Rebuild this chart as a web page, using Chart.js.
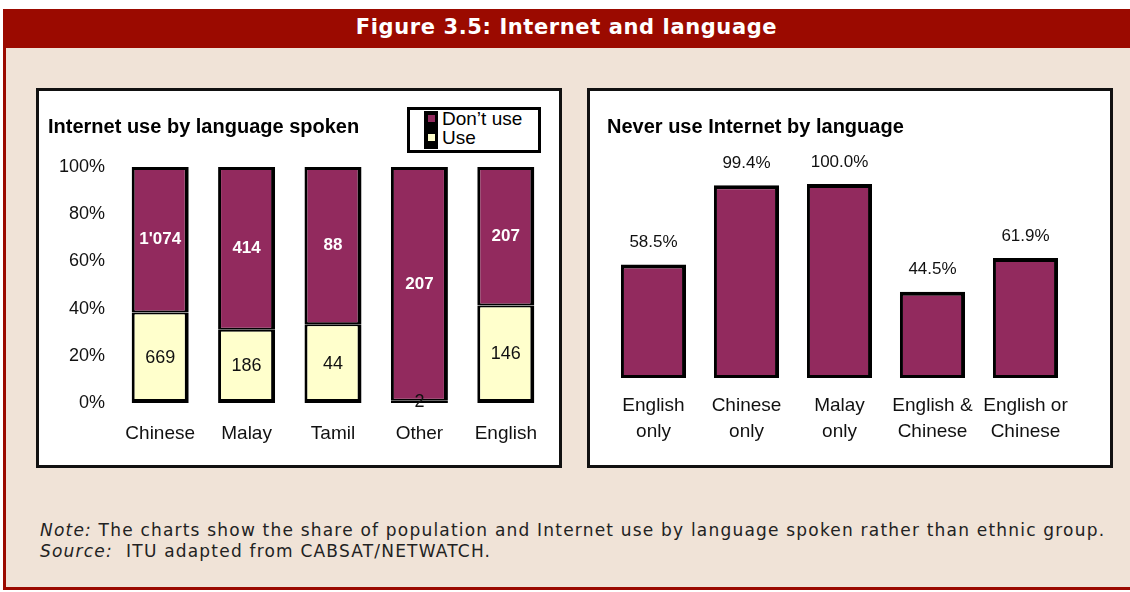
<!DOCTYPE html>
<html>
<head>
<meta charset="utf-8">
<script src="https://cdn.jsdelivr.net/npm/chart.js@4.4.0/dist/chart.umd.min.js"></script>
<style>
  html, body { margin: 0; padding: 0; background: #fff; }
  body { width: 1130px; height: 592px; position: relative; overflow: hidden; font-family: "Liberation Sans", Arial, sans-serif; }
  #frame { position: absolute; left: 3px; top: 9px; width: 1127px; height: 581px; background: #F0E3D7;
           border-left: 3px solid #9B0A00; border-bottom: 3px solid #9B0A00; box-sizing: border-box; }
  #header { position: absolute; left: 3px; top: 9px; width: 1127px; height: 39px; background: #9B0A00; color: #fff;
            font: bold 21px "DejaVu Sans", sans-serif; letter-spacing: 0.6px; text-align: center; line-height: 36px; }
  .panel { position: absolute; top: 88px; width: 526px; height: 380px; background: #fff; border: 3px solid #111; box-sizing: border-box; }
  #panelL { left: 36px; }
  #panelR { left: 587px; }
  .wrap { position: absolute; left: 0; top: 0; width: 520px; height: 374px; }
  #legend { position: absolute; left: 368px; top: 16px; width: 134px; height: 46px; border: 3px solid #000; box-sizing: border-box; background: #fff; }
  #legend .keys { position: absolute; left: 14px; top: 1px; width: 14px; height: 38px; background: #000; }
  #legend .key { position: absolute; left: 4px; width: 7px; height: 7px; }
  #legend .txt { position: absolute; left: 32px; font: 19px "Liberation Sans", Arial, sans-serif; line-height: 19px; color: #000; white-space: nowrap; }
  #note { position: absolute; left: 40px; top: 520px; font: 17px "DejaVu Sans", sans-serif; letter-spacing: 1.2px; color: #222; line-height: 21px; white-space: nowrap; }
</style>
</head>
<body>
<div id="frame"></div>
<div id="header">Figure 3.5: Internet and language</div>

<div class="panel" id="panelL">
  <div class="wrap"><canvas id="useChart"></canvas></div>
  <div id="legend"></div>
</div>
<div class="panel" id="panelR">
  <div class="wrap"><canvas id="neverChart"></canvas></div>
</div>

<div id="note">
  <div><i>Note:</i> The charts show the share of population and Internet use by language spoken rather than ethnic group.</div>
  <div><i>Source:</i>&nbsp; ITU adapted from CABSAT/NETWATCH.</div>
</div>

<script>
// left chart: people by language spoken, using / not using the Internet
const languages = ["Chinese", "Malay", "Tamil", "Other", "English"];
const useCounts = [669, 186, 44, 2, 146];
const dontUseCounts = [1074, 414, 88, 207, 207];
const yTicks = [0, 20, 40, 60, 80, 100];

// right chart: share who never use the Internet
const groups = [["English", "only"], ["Chinese", "only"], ["Malay", "only"], ["English &", "Chinese"], ["English or", "Chinese"]];
const neverUse = [58.5, 99.4, 100.0, 44.5, 61.9];

const MAROON = "#922A5E";
const CREAM = "#FFFFCC";
const FONT = "'Liberation Sans', Arial, sans-serif";

function share(part, other) {
    return part.map((v, i) => v / (v + other[i]) * 100);
}

function fmtCount(n) {
    return String(n).replace(/\B(?=(\d{3})+(?!\d))/g, "'");
}

// draws the numbers on/above the bars
const barLabels = {
    id: "barLabels",
    afterDatasetsDraw(chart) {
        const ctx = chart.ctx;
        ctx.save();
        ctx.textAlign = "center";
        ctx.textBaseline = "middle";
        chart.data.datasets.forEach((ds, i) => {
            if (!ds.texts) return;
            const meta = chart.getDatasetMeta(i);
            ctx.fillStyle = ds.textColor;
            ctx.font = ds.textFont;
            meta.data.forEach((bar, j) => {
                const y = ds.textAbove ? bar.y - ds.textAbove : (bar.y + bar.base) / 2;
                ctx.fillText(ds.texts[j], bar.x, y);
            });
        });
        ctx.restore();
    }
};

const useChart = new Chart(document.getElementById("useChart"), {
    type: "bar",
    data: {
        labels: languages,
        datasets: [{
            label: "Use",
            data: share(useCounts, dontUseCounts),
            backgroundColor: CREAM,
            borderColor: "#000",
            borderWidth: { left: 3, right: 4, top: 2, bottom: 4 },
            borderSkipped: false,
            texts: useCounts.map(fmtCount),
            textColor: "#111",
            textFont: "18px " + FONT
        }, {
            label: "Don\u2019t use",
            data: share(dontUseCounts, useCounts),
            backgroundColor: MAROON,
            borderColor: "#000",
            borderWidth: { left: 3, right: 4, top: 3, bottom: 2 },
            borderSkipped: false,
            texts: dontUseCounts.map(fmtCount),
            textColor: "#fff",
            textFont: "bold 17px " + FONT
        }]
    },
    options: {
        responsive: true,
        maintainAspectRatio: false,
        animation: false,
        layout: { padding: { left: 9, right: 10, top: 0, bottom: 0 } },
        datasets: { bar: { categoryPercentage: 1, barPercentage: 0.66 } },
        plugins: {
            legend: { display: false },
            tooltip: { enabled: false },
            title: {
                display: true,
                text: "Internet use by language spoken",
                align: "start",
                color: "#000",
                font: { family: FONT, size: 20, weight: "bold" },
                padding: { top: 24, bottom: 28 }
            }
        },
        scales: {
            x: {
                stacked: true,
                grid: { display: false, drawTicks: false },
                border: { display: false },
                ticks: { color: "#111", font: { family: FONT, size: 19 }, padding: 19 },
                afterFit(scale) { scale.height = 62; }
            },
            y: {
                stacked: true,
                min: 0,
                max: 100,
                grid: { display: false, drawTicks: false },
                border: { display: false },
                afterBuildTicks(scale) { scale.ticks = yTicks.map(v => ({ value: v })); },
                ticks: { color: "#111", font: { family: FONT, size: 18 }, padding: 12, callback: v => v + "%" },
                afterFit(scale) { scale.width = 69; }
            }
        }
    },
    plugins: [barLabels]
});

// legend box, top entry first like the original
const legend = document.getElementById("legend");
let legendHtml = '<div class="keys">';
useChart.data.datasets.slice().reverse().forEach((ds, i) => {
    legendHtml += '<div class="key" style="top:' + (4 + i * 19) + 'px;background:' + ds.backgroundColor + '"></div>';
});
legendHtml += "</div>";
useChart.data.datasets.slice().reverse().forEach((ds, i) => {
    legendHtml += '<div class="txt" style="top:' + (-1 + i * 19) + 'px">' + ds.label + "</div>";
});
legend.innerHTML = legendHtml;

new Chart(document.getElementById("neverChart"), {
    type: "bar",
    data: {
        labels: groups,
        datasets: [{
            label: "Never use Internet",
            data: neverUse,
            backgroundColor: MAROON,
            borderColor: "#000",
            borderWidth: { left: 3, right: 4, top: 4, bottom: 3 },
            borderSkipped: false,
            texts: neverUse.map(v => v.toFixed(1) + "%"),
            textColor: "#111",
            textFont: "17px " + FONT,
            textAbove: 22
        }]
    },
    options: {
        responsive: true,
        maintainAspectRatio: false,
        animation: false,
        layout: { padding: { left: 17, right: 38, top: 0, bottom: 0 } },
        datasets: { bar: { categoryPercentage: 1, barPercentage: 0.7 } },
        plugins: {
            legend: { display: false },
            tooltip: { enabled: false },
            title: {
                display: true,
                text: "Never use Internet by language",
                align: "start",
                color: "#000",
                font: { family: FONT, size: 20, weight: "bold" },
                padding: { top: 24, bottom: 45 }
            }
        },
        scales: {
            x: {
                grid: { display: false, drawTicks: false },
                border: { display: false },
                ticks: { color: "#111", font: { family: FONT, size: 19, lineHeight: 1.35 }, padding: 15 },
                afterFit(scale) { scale.height = 87; }
            },
            y: { display: false, min: 0, max: 100 }
        }
    },
    plugins: [barLabels]
});
</script>
</body>
</html>
